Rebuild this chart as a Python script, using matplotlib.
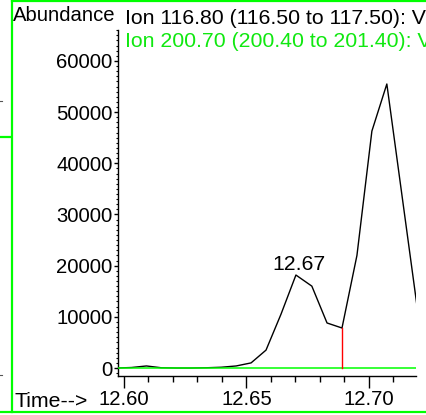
import matplotlib
matplotlib.use("Agg")
import matplotlib.pyplot as plt
from matplotlib.ticker import MultipleLocator
from matplotlib.lines import Line2D

plt.rcParams['font.family'] = ['Liberation Sans', 'DejaVu Sans']

# Extracted ion chromatogram data (retention time in minutes, abundance)
times = [12.5970, 12.6031, 12.6092, 12.6153, 12.6214, 12.6275, 12.6336,
         12.6397, 12.6458, 12.6519, 12.6580, 12.6641, 12.6702, 12.6767,
         12.6829, 12.6890, 12.6951, 12.7012, 12.7073, 12.7195]
ion_116 = [0, 100, 400, 50, 0, 0, 50,
           150, 400, 1000, 3500, 10500, 18170, 16000,
           8800, 7820, 22000, 46300, 55500, 12500]
ion_200 = [0, 0, 0, 0, 0, 0, 0,
           0, 0, 0, 0, 0, 0, 0,
           0, 0, 0, 0, 0, 0]

peak_label = "12.67"
peak_time = 12.6702
peak_value = 18170
marker_time = 12.6890
marker_value = 7820

title_black = "Ion 116.80 (116.50 to 117.50): V"
title_green = "Ion 200.70 (200.40 to 201.40): V"

W, H = 426, 415
fig = plt.figure(figsize=(W / 100, H / 100), dpi=100)

def fx(px):
    return px / W

def fy(py):
    return (H - py) / H

ax = fig.add_axes([fx(118), fy(376), fx(416) - fx(118), fy(30) - fy(376)])

FS = 14.6
FS_TITLE = 15.3
GREEN = '#00ff00'
GREEN_TXT = '#10e810'

ax.plot(times, ion_116, color='black', lw=1.0, zorder=2)
ax.plot(times, ion_200, color=GREEN, lw=1.1, zorder=3)
ax.plot([marker_time, marker_time], [0, marker_value], color='#ff0000', lw=1.0, zorder=4)

ax.annotate(peak_label, xy=(peak_time, peak_value), xytext=(3, 5),
            textcoords='offset pixels', ha='center', va='baseline',
            fontsize=FS_TITLE, color='black')

ax.set_xlim(12.5976, 12.7192)
ax.set_ylim(-1560, 66050)

for s in ('top', 'right'):
    ax.spines[s].set_visible(False)
for s in ('left', 'bottom'):
    ax.spines[s].set_linewidth(1.0)

ax.xaxis.set_major_locator(MultipleLocator(0.05))
ax.xaxis.set_minor_locator(MultipleLocator(0.01))
ax.yaxis.set_major_locator(MultipleLocator(10000))
ax.yaxis.set_minor_locator(MultipleLocator(1000))
ax.xaxis.set_major_formatter(plt.FormatStrFormatter('%.2f'))
ax.yaxis.set_major_formatter(plt.FormatStrFormatter('%d'))

ax.tick_params(axis='x', which='major', length=8.5, width=1.0, direction='out',
               labelsize=FS, pad=1.5)
ax.tick_params(axis='x', which='minor', length=4.5, width=1.0, direction='out')
ax.tick_params(axis='y', which='major', length=3, width=1.0, direction='out',
               labelsize=FS, pad=1)
ax.tick_params(axis='y', which='minor', length=1.2, width=0.8, direction='out')

fig.text(fx(13), fy(21), "Abundance", fontsize=FS, ha='left', va='baseline')
fig.text(fx(125), fy(24), title_black, fontsize=FS_TITLE, ha='left', va='baseline')
fig.text(fx(125), fy(47), title_green, fontsize=FS_TITLE, ha='left', va='baseline',
         color=GREEN_TXT)
fig.text(fx(14), fy(407), "Time-->", fontsize=FS_TITLE, ha='left', va='baseline')

# Surrounding panel frame
frame = dict(color=GREEN, lw=1.6, transform=fig.transFigure)
fig.add_artist(Line2D([fx(11.5), fx(11.5)], [fy(0), fy(412)], **frame))
fig.add_artist(Line2D([fx(11.5), fx(W)], [fy(0.6), fy(0.6)], **frame))
fig.add_artist(Line2D([fx(0), fx(W)], [fy(412), fy(412)], **frame))
fig.add_artist(Line2D([fx(0), fx(11)], [fy(137), fy(137)], **frame))
fig.add_artist(Line2D([fx(0), fx(1.5)], [fy(101), fy(101)], color='#555555',
                      lw=0.8, transform=fig.transFigure))
fig.add_artist(Line2D([fx(0), fx(1.5)], [fy(375), fy(375)], color='#555555',
                      lw=0.8, transform=fig.transFigure))

fig.savefig("out.png", dpi=100)
